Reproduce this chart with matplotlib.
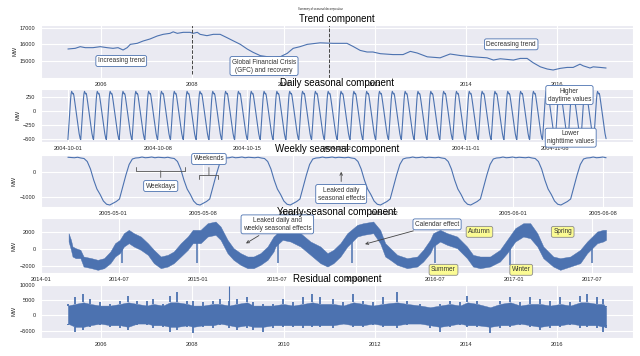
import matplotlib
matplotlib.use("Agg")
import matplotlib.pyplot as plt
import matplotlib.dates as mdates
import numpy as np
import pandas as pd
import seaborn as sns

sns.set_style("darkgrid")
plt.rcParams["font.family"] = ["Liberation Sans", "DejaVu Sans"]

# ---- trend component (decimal year, MW) ----
trend_year = [2005.27, 2005.43, 2005.54, 2005.65, 2005.82, 2005.98, 2006.13, 2006.26, 2006.37, 2006.48,
              2006.57, 2006.64, 2006.79, 2006.92, 2007.07, 2007.23, 2007.36, 2007.51, 2007.58, 2007.67,
              2007.80, 2007.95, 2008.02, 2008.11, 2008.17, 2008.32, 2008.46, 2008.61, 2008.76, 2008.89,
              2009.05, 2009.20, 2009.33, 2009.49, 2009.64, 2009.77, 2009.93, 2010.08, 2010.21, 2010.36,
              2010.52, 2010.80, 2011.09, 2011.39, 2011.53, 2011.68, 2011.83, 2011.96, 2012.12, 2012.40,
              2012.62, 2012.78, 2012.93, 2013.15, 2013.43, 2013.65, 2013.87, 2014.16, 2014.46, 2014.60,
              2014.75, 2015.04, 2015.19, 2015.34, 2015.47, 2015.63, 2015.78, 2015.91, 2016.07, 2016.22,
              2016.35, 2016.50, 2016.57, 2016.72, 2016.79, 2016.94, 2017.07]
trend_mw = [15720, 15760, 15860, 15800, 15800, 15860, 15800, 15760, 15800, 15660,
            15800, 16000, 16060, 16200, 16320, 16500, 16600, 16660, 16750, 16660,
            16720, 16720, 16660, 16720, 16600, 16520, 16600, 16600, 16400, 16220,
            16000, 15720, 15520, 15320, 15260, 15220, 15260, 15460, 15760, 15860,
            16000, 16090, 16060, 16060, 15865, 15635, 15540, 15540, 15440, 15385,
            15385, 15577, 15480, 15250, 15190, 15420, 15330, 15250, 15190, 15058,
            15135, 15058, 15155, 15155, 14900, 14650, 14520, 14460, 14560, 14615,
            14615, 14810, 14710, 14580, 14650, 14615, 14580]
gfc_lines = [2008.0, 2011.0]
gfc_line_bottom = [14250, 14000]

# ---- daily seasonal component: one day, hourly, repeated over six weeks ----
daily_profile = [-505, -380, -230, -80, 70, 200, 300, 345, 320, 300, 310, 280,
                 220, 150, 80, 10, -60, -130, -200, -270, -340, -400, -450, -490]
daily_start = "2004-10-01"
daily_days = 42

# ---- weekly seasonal component: one week in 6-hour steps, repeated ----
weekly_profile = [590, 580, 570, 590, 560, 540, 420, 120, -320, -680, -900, -1160, -1290, -1320,
                  -1250, -1180, -1080, -600, -120, 300, 520, 560, 570, 600, 570, 580, 600, 570]
weekly_start = "2005-04-27 12:00"
weekly_weeks = 6

# ---- yearly seasonal component: band of the noisy line (decimal year, MW) ----
yearly_year = [2014.175, 2014.19, 2014.20, 2014.22, 2014.25, 2014.27, 2014.32, 2014.36, 2014.40, 2014.44,
               2014.47, 2014.50, 2014.526, 2014.557, 2014.589, 2014.633, 2014.678, 2014.716, 2014.760, 2014.804,
               2014.842, 2014.887, 2014.931, 2014.963, 2015.013, 2015.058, 2015.108, 2015.140, 2015.184, 2015.222,
               2015.267, 2015.311, 2015.349, 2015.393, 2015.438, 2015.476, 2015.488, 2015.533, 2015.583, 2015.647,
               2015.710, 2015.773, 2015.818, 2015.856, 2015.900, 2015.944, 2016.008, 2016.046, 2016.109, 2016.153,
               2016.185, 2016.217, 2016.261, 2016.324, 2016.388, 2016.426, 2016.470, 2016.489, 2016.533, 2016.578,
               2016.641, 2016.704, 2016.742, 2016.787, 2016.850, 2016.913, 2016.958, 2017.008, 2017.059, 2017.103,
               2017.148, 2017.186, 2017.249, 2017.293, 2017.357, 2017.420, 2017.464, 2017.528, 2017.565, 2017.584]
yearly_hi = [1822, 1047, 271, 78, -116, -892, -1085, -1279, -1085, -310,
             659, 1047, 1822, 2210, 1822, 1434, 659, -116, -892, -698,
             -310, 659, 1434, 2210, 2210, 2985, 3179, 2597, 1047, 78,
             -504, -892, -892, -504, 271, 1434, 1628, 2597, 2404, 1822,
             853, 271, -504, -116, 659, 1822, 2791, 2985, 3179, 2210,
             659, 78, -698, -1085, -892, -116, 1047, 1822, 2210, 1822,
             1434, 271, -698, -892, -892, -116, 1047, 2404, 2985, 2985,
             1822, 271, -892, -1085, -892, -116, 853, 2016, 2210, 2210]
yearly_lo = [853, -116, -892, -1085, -1085, -2055, -2249, -2442, -2249, -1667,
             -892, -504, 271, 659, 271, -116, -698, -1667, -2249, -2055,
             -1667, -892, -116, 659, 659, 1434, 1628, 1047, -504, -1279,
             -1861, -2249, -2249, -1861, -1279, -310, 271, 1047, 853, 271,
             -698, -1667, -2055, -1667, -892, 271, 1434, 1628, 1822, 659,
             -892, -1279, -1861, -2249, -2055, -1473, -504, 271, 853, 465,
             78, -1085, -2055, -2249, -2055, -1473, -504, 853, 1434, 1241,
             271, -1085, -2055, -2442, -2055, -1667, -504, 659, 853, 1047]
# narrow holiday dips (new year / mid year)
dip_year = [2014.513, 2014.988, 2015.507, 2015.976, 2016.502, 2016.977, 2017.496]
dip_low = [-1667, -1667, -1667, -1667, -1667, -1861, -1667]
dip_top = [1047, 1434, 1047, 1434, 1434, 1047, 1047]

# ---- residual component: dense core and spike extremes (decimal year, MW) ----
resid_year = [2005.27, 2005.43, 2005.61, 2005.76, 2005.98, 2006.20, 2006.42, 2006.59, 2006.79, 2007.01,
              2007.14, 2007.36, 2007.51, 2007.67, 2007.89, 2008.02, 2008.24, 2008.46, 2008.61, 2008.81,
              2008.98, 2009.20, 2009.33, 2009.55, 2009.77, 2009.99, 2010.21, 2010.43, 2010.63, 2010.80,
              2011.09, 2011.31, 2011.53, 2011.75, 2011.96, 2012.18, 2012.49, 2012.71, 2013.00, 2013.21,
              2013.43, 2013.65, 2013.87, 2014.03, 2014.25, 2014.53, 2014.75, 2014.97, 2015.19, 2015.41,
              2015.63, 2015.85, 2016.07, 2016.29, 2016.51, 2016.66, 2016.88, 2017.01, 2017.07]
resid_hi = [3788, 5952, 7035, 5411, 4329, 3788, 4870, 6494, 4870, 4870,
            5411, 3788, 6494, 7576, 4870, 4870, 4329, 4870, 5411, 4870,
            5411, 5952, 4329, 3788, 3788, 5411, 4329, 5952, 7035, 5952,
            5411, 4329, 7035, 4870, 4329, 5952, 7576, 4870, 3788, 2706,
            3788, 4870, 4329, 6494, 4870, 2706, 4870, 5952, 4329, 5952,
            5411, 4870, 5952, 4329, 6494, 7035, 5952, 5411, 3247]
resid_lo = [-3247, -5411, -4870, -3788, -3247, -3788, -4329, -4870, -3247, -3247,
            -4329, -3788, -5411, -4870, -3788, -5952, -3788, -4329, -3247, -4329,
            -4870, -4329, -4870, -5411, -4329, -3788, -3788, -4329, -3788, -3788,
            -4329, -2706, -3788, -3788, -3247, -3788, -4329, -3247, -2706, -4329,
            -5411, -3788, -3247, -3788, -3788, -5952, -4329, -3788, -3247, -3788,
            -4870, -4329, -3788, -3247, -4329, -3788, -4329, -5411, -4329]
resid_core_hi = [3250, 3790, 4330, 3790, 3250, 3250, 3790, 4330, 3790, 3250,
                 3790, 3250, 4330, 4330, 3790, 3250, 3250, 3790, 3790, 3250,
                 3790, 4330, 3250, 3250, 3250, 3790, 3250, 3790, 4330, 3790,
                 3790, 3250, 4330, 3790, 3250, 3790, 4330, 3790, 3250, 2700,
                 3250, 3790, 3250, 4330, 3790, 2700, 3790, 4330, 3250, 3790,
                 3790, 3250, 3790, 3250, 4330, 4330, 3790, 3790, 2700]
resid_core_lo = [-2700, -3790, -3790, -3250, -2700, -3250, -3250, -3790, -2700, -2700,
                 -3250, -3250, -3790, -3790, -3250, -3790, -3250, -3250, -2700, -3250,
                 -3790, -3250, -3790, -3790, -3250, -3250, -3250, -3250, -3250, -3250,
                 -3250, -2700, -3250, -3250, -2700, -3250, -3250, -2700, -2700, -3250,
                 -3790, -3250, -2700, -3250, -3250, -3790, -3250, -3250, -2700, -3250,
                 -3790, -3250, -3250, -2700, -3250, -3250, -3250, -3790, -3250]
spike_year = [2008.81]
spike_top = [9740]

LINE = "#4C72B0"
TXT = "#333333"
ANN_FS = 4.7
TICK_FS = 4.1
blue_box = dict(boxstyle="round,pad=0.3", fc="white", ec=LINE, lw=0.6)
yellow_box = dict(boxstyle="round,pad=0.3", fc="#fbfb93", ec="#8c8c8c", lw=0.6)
arrow = dict(arrowstyle="->", color="#444444", lw=0.6)


def year_to_num(years):
    out = []
    for y in years:
        w = int(np.floor(y))
        d = pd.Timestamp(year=w, month=1, day=1) + pd.Timedelta(days=(y - w) * 365.25)
        out.append(mdates.date2num(d.to_pydatetime()))
    return np.array(out)


def day_num(start, days):
    return mdates.date2num((pd.Timestamp(start) + pd.Timedelta(days=days)).to_pydatetime())


def panel(top, bottom):
    return fig.add_axes([41 / 640, 1 - bottom / 356, 592 / 640, (bottom - top) / 356])


def style(ax, title):
    ax.set_title(title, fontsize=7, pad=2.5, color="black")
    ax.set_ylabel("MW", fontsize=TICK_FS, labelpad=2)
    ax.tick_params(axis="x", labelsize=TICK_FS, length=0, pad=3)
    ax.tick_params(axis="y", labelsize=TICK_FS, length=0, pad=4)


fig = plt.figure(figsize=(6.4, 3.56), dpi=100)
fig.suptitle("Summary of seasonal decomposition", fontsize=2, y=0.979)

# trend
ax_t = panel(25, 78)
ax_t.plot(year_to_num(trend_year), trend_mw, color=LINE, lw=0.8)
for yl, yb in zip(gfc_lines, gfc_line_bottom):
    ax_t.vlines(year_to_num([yl])[0], yb, 17150, colors="#444444", linestyles="--", lw=0.7)
ax_t.set_ylim(13980, 17160)
ax_t.set_yticks([15000, 16000, 17000])
ax_t.xaxis.set_major_locator(mdates.YearLocator(2))
ax_t.xaxis.set_major_formatter(mdates.DateFormatter("%Y"))
ax_t.text(year_to_num([2006.44])[0], 15000, "Increasing trend", fontsize=ANN_FS, color=TXT,
          ha="center", va="center", bbox=blue_box)
ax_t.text(year_to_num([2009.57])[0], 14700, "Global Financial Crisis\n(GFC) and recovery", fontsize=ANN_FS,
          color=TXT, ha="center", va="center", multialignment="center", bbox=blue_box)
ax_t.text(year_to_num([2014.99])[0], 16000, "Decreasing trend", fontsize=ANN_FS, color=TXT,
          ha="center", va="center", bbox=blue_box)
style(ax_t, "Trend component")

# daily
ax_d = panel(89, 142)
d_times = pd.date_range(daily_start, periods=daily_days * 24, freq="h")
ax_d.plot(mdates.date2num(d_times.to_pydatetime()), np.tile(daily_profile, daily_days), color=LINE, lw=0.8)
ax_d.set_ylim(-548, 386)
ax_d.set_yticks([-500, -250, 0, 250])
ax_d.xaxis.set_major_locator(mdates.DayLocator(bymonthday=[1, 8, 15, 22]))
ax_d.xaxis.set_major_formatter(mdates.DateFormatter("%Y-%m-%d"))
ax_d.text(day_num(daily_start, 39.1), 280, "Higher\ndaytime values", fontsize=ANN_FS, color=TXT,
          ha="center", va="center", multialignment="center", bbox=blue_box, zorder=5)
ax_d.text(day_num(daily_start, 39.2), -472, "Lower\nnighttime values", fontsize=ANN_FS, color=TXT,
          ha="center", va="center", multialignment="center", bbox=blue_box, zorder=5)
style(ax_d, "Daily seasonal component")

# weekly
ax_w = panel(155, 207)
w_times = pd.date_range(weekly_start, periods=weekly_weeks * 28, freq="6h")
ax_w.plot(mdates.date2num(w_times.to_pydatetime()), np.tile(weekly_profile, weekly_weeks), color=LINE, lw=0.8)
ax_w.set_ylim(-1400, 680)
ax_w.set_yticks([-1000, 0])
ax_w.xaxis.set_major_locator(mdates.DayLocator(bymonthday=[1, 8, 15, 22]))
ax_w.xaxis.set_major_formatter(mdates.DateFormatter("%Y-%m-%d"))
scale = ANN_FS * 100 / 72
ax_w.annotate("Weekdays", xy=(day_num(weekly_start, 7.2), 160), xytext=(day_num(weekly_start, 7.2), -560),
              fontsize=ANN_FS, color=TXT, ha="center", va="center", bbox=blue_box,
              arrowprops=dict(arrowstyle="-[, widthB=%.2f, lengthB=0.6" % (49 / (2 * scale)),
                              color="#555555", lw=0.6))
ax_w.annotate("Weekends", xy=(day_num(weekly_start, 10.94), -240), xytext=(day_num(weekly_start, 10.94), 520),
              fontsize=ANN_FS, color=TXT, ha="center", va="center", bbox=blue_box,
              arrowprops=dict(arrowstyle="-[, widthB=%.2f, lengthB=0.6" % (19 / (2 * scale)),
                              color="#555555", lw=0.6))
ax_w.annotate("Leaked daily\nseasonal effects", xy=(day_num(weekly_start, 21.2), 120),
              xytext=(day_num(weekly_start, 21.2), -880), fontsize=ANN_FS, color=TXT,
              ha="center", va="center", multialignment="center", bbox=blue_box, arrowprops=arrow)
style(ax_w, "Weekly seasonal component")

# yearly
ax_y = panel(218, 273)
yx = year_to_num(yearly_year)
ax_y.fill_between(yx, yearly_lo, yearly_hi, color=LINE, lw=0.3, edgecolor=LINE)
ax_y.vlines(year_to_num(dip_year), dip_low, dip_top, colors=LINE, lw=1.1)
ax_y.set_ylim(-2810, 3590)
ax_y.set_yticks([-2000, 0, 2000])
ax_y.set_xlim(year_to_num([2014.0])[0], year_to_num([2017.755])[0])
ax_y.xaxis.set_major_locator(mdates.MonthLocator(bymonth=[1, 7]))
ax_y.xaxis.set_major_formatter(mdates.DateFormatter("%Y-%m"))
ax_y.annotate("Leaked daily and\nweekly seasonal effects", xy=(year_to_num([2015.286])[0], 465),
              xytext=(year_to_num([2015.50])[0], 2850), fontsize=ANN_FS, color=TXT,
              ha="center", va="center", multialignment="center", bbox=blue_box, arrowprops=arrow)
ax_y.annotate("Calendar effect", xy=(year_to_num([2016.04])[0], 465),
              xytext=(year_to_num([2016.514])[0], 2850), fontsize=ANN_FS, color=TXT,
              ha="center", va="center", bbox=blue_box, arrowprops=arrow)
for name, yr, val in [("Autumn", 2016.783, 1977), ("Spring", 2017.309, 1977),
                      ("Summer", 2016.555, -2442), ("Winter", 2017.046, -2442)]:
    ax_y.text(year_to_num([yr])[0], val, name, fontsize=ANN_FS, color=TXT,
              ha="center", va="center", bbox=yellow_box)
style(ax_y, "Yearly seasonal component")

# residual
ax_r = panel(285, 338)
rx = year_to_num(resid_year)
ax_r.fill_between(rx, resid_core_lo, resid_core_hi, color=LINE, lw=0.3, edgecolor=LINE)
ax_r.vlines(rx, resid_core_hi, resid_hi, colors=LINE, lw=1.3)
ax_r.vlines(rx, resid_lo, resid_core_lo, colors=LINE, lw=1.3)
ax_r.vlines(year_to_num(spike_year), 0, spike_top, colors=LINE, lw=0.8)
ax_r.set_ylim(-7470, 10050)
ax_r.set_yticks([-5000, 0, 5000, 10000])
ax_r.xaxis.set_major_locator(mdates.YearLocator(2))
ax_r.xaxis.set_major_formatter(mdates.DateFormatter("%Y"))
style(ax_r, "Residual component")

fig.savefig("out.png", dpi=100)
